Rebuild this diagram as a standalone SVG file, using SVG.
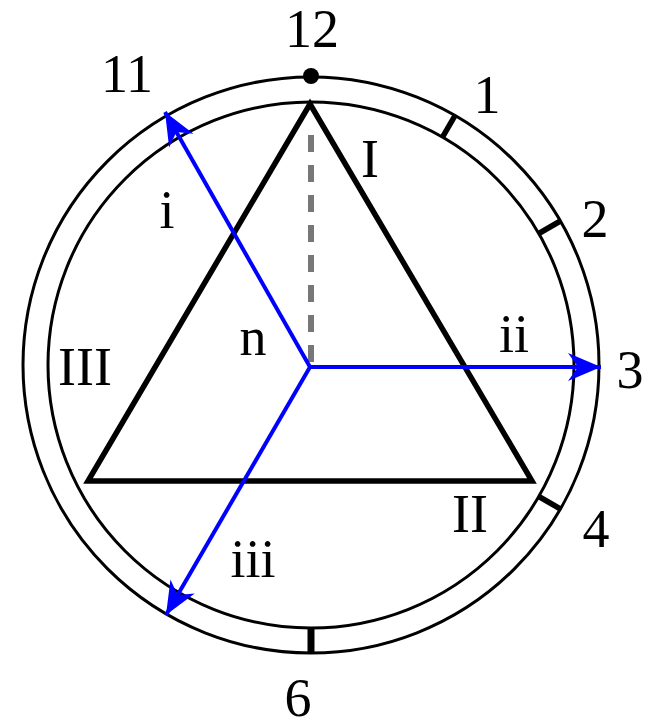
<svg xmlns="http://www.w3.org/2000/svg" width="648" height="728" viewBox="0 0 648 728">
  <style>
    .lbl { font-family: "Liberation Serif", "Times New Roman", serif; font-size: 54px; fill: #000; text-anchor: middle; }
    .ring { fill: none; stroke: #000; stroke-width: 3; }
    .tick { stroke: #000; stroke-width: 5.5; }
    .tri { fill: none; stroke: #000; stroke-width: 5.5; stroke-linejoin: miter; }
    .dash { stroke: #777; stroke-width: 6; stroke-dasharray: 17 13; }
    .vec { stroke: #0000ff; stroke-width: 4; fill: none; marker-end: url(#ah); }
  </style>
  <defs>
    <marker id="ah" markerUnits="userSpaceOnUse" markerWidth="40" markerHeight="40" viewBox="-34 -16 40 32" refX="0" refY="0" orient="auto">
      <path d="M0,0 L-33,-14 L-23,0 L-33,14 Z" fill="#0000ff"/>
    </marker>
  </defs>
  <rect width="648" height="728" fill="#fff"/>
  <g id="clock">
    <circle class="ring" cx="311" cy="365" r="288"/>
    <circle class="ring" cx="311" cy="365" r="263"/>
    <circle cx="311" cy="76" r="8" fill="#000"/>
    <line class="tick" x1="442.5" y1="137.2" x2="455" y2="115.6"/>
    <line class="tick" x1="538.8" y1="233.5" x2="560.4" y2="221"/>
    <line class="tick" x1="538.8" y1="496.5" x2="560.4" y2="509"/>
    <line class="tick" x1="311" y1="628" x2="311" y2="653" style="stroke-width:7"/>
  </g>
  <g id="triangle">
    <polygon class="tri" points="310,104 88,481 532,481"/>
  </g>
  <g id="connectors">
    <line class="dash" x1="311" y1="135" x2="311" y2="367"/>
    <line class="vec" x1="310" y1="367" x2="601" y2="367"/>
    <line class="vec" x1="310" y1="367" x2="165" y2="112"/>
    <line class="vec" x1="310" y1="367" x2="166" y2="615"/>
  </g>
  <g id="labels">
    <text class="lbl" x="312" y="47">12</text>
    <text class="lbl" x="127" y="92">11</text>
    <text class="lbl" x="487" y="113">1</text>
    <text class="lbl" x="595" y="237">2</text>
    <text class="lbl" x="630" y="388">3</text>
    <text class="lbl" x="596" y="547">4</text>
    <text class="lbl" x="298" y="716">6</text>
    <text class="lbl" x="370" y="177">I</text>
    <text class="lbl" x="470" y="532">II</text>
    <text class="lbl" x="85" y="385">III</text>
    <text class="lbl" x="167" y="228">i</text>
    <text class="lbl" x="514" y="352">ii</text>
    <text class="lbl" x="253" y="577">iii</text>
    <text class="lbl" x="253" y="355">n</text>
  </g>
</svg>
